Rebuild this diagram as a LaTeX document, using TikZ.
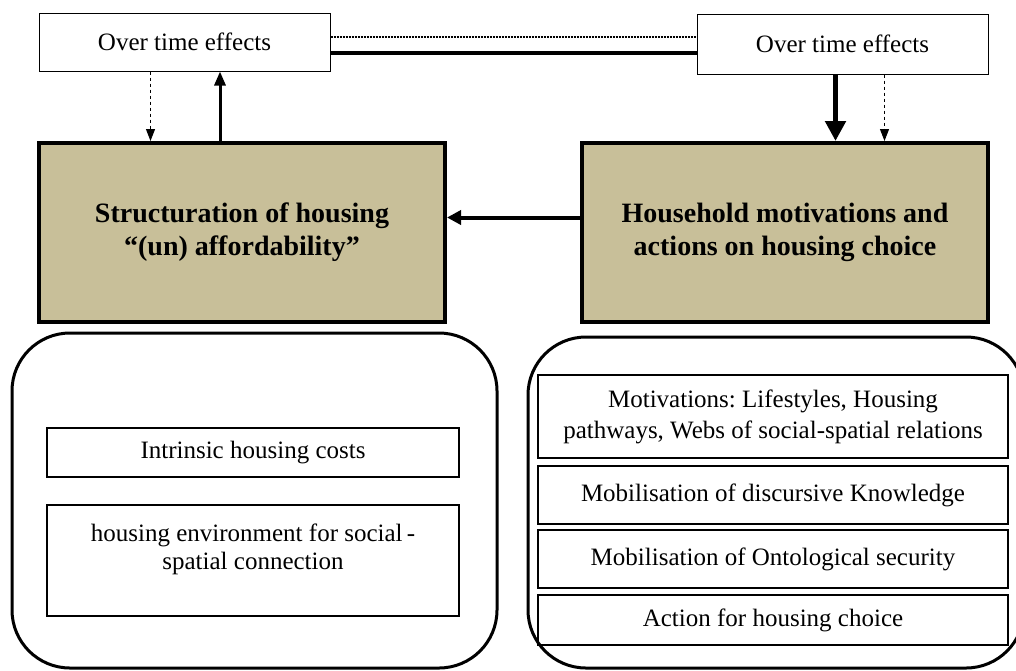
\documentclass[tikz,border=0pt]{standalone}
\usepackage{fontspec}
\setmainfont{Liberation Serif}
\usetikzlibrary{arrows.meta,positioning}
\definecolor{boxtan}{RGB}{200,191,153}
\frenchspacing

\tikzset{
  effectbox/.style={draw=black, line width=1pt, fill=white, minimum width=291pt,
    minimum height=58pt, font=\fontsize{25}{29}\selectfont},
  structbox/.style={draw=black, line width=4pt, fill=boxtan, minimum width=406pt,
    minimum height=179pt, align=center, font=\fontsize{28}{33}\selectfont\bfseries},
  groupbox/.style={draw=black, line width=3pt, rounded corners=58pt},
  itembox/.style={draw=black, line width=1.5pt, align=center,
    font=\fontsize{25}{31}\selectfont},
  dasharrow/.style={dashed, line width=1pt, -{Triangle[length=12pt,width=9pt]}},
}

\begin{document}
\begin{tikzpicture}[x=1pt, y=-1pt]

\useasboundingbox (0,0) rectangle (1016,670);
\clip (0,0) rectangle (1016,670);

% Over time effects
\path
(184.5,42) node [effectbox] (tl) {Over time effects};
\path
(842.5,44) node [effectbox, minimum height=60pt] (tr) {Over time effects};

% link between the two
\draw[dashed, dash pattern=on 2pt off 1pt, line width=1.5pt]
  ([yshift=5pt]tl.east) -- ([yshift=5pt]tl.east -| tr.west);
\draw[line width=4pt]
  ([yshift=-11pt]tl.east) -- ([yshift=-11pt]tl.east -| tr.west);

%
% Structuration
%
\path
(242,232.5) node [structbox] (sl) {Structuration of housing\\``(un) affordability''};

%
% Household
%
\path
(785,232.5) node [structbox] (hm) {Household motivations and\\actions on housing choice};

% arrows
\draw[dasharrow] ([xshift=112pt]tl.south west) coordinate (a1) -- (a1 |- sl.north);
\draw[line width=3pt, -{Triangle[length=14pt,width=11pt]}]
  ([xshift=183pt]sl.north west) coordinate (a2) -- (a2 |- tl.south);
\draw[line width=5pt, -{Triangle[length=20pt,width=20pt]}]
  ([xshift=139pt]tr.south west) coordinate (a3) -- (a3 |- hm.north);
\draw[dasharrow] ([xshift=188pt]tr.south west) coordinate (a4) -- (a4 |- hm.north);
\draw[line width=4pt, -{Triangle[length=14pt,width=14pt]}]
  ([yshift=15pt]hm.west) -- ([yshift=15pt]sl.east);

%
% Left group
%
\draw[groupbox] (12,333) rectangle (497,668);

\path
(253,452.5) node [itembox, minimum width=412pt, minimum height=49pt] (costs) {Intrinsic housing costs};
\path
(253,560.5) node [itembox, minimum width=412pt, minimum height=111pt] (env) {};
\node [itembox, draw=none, below=16pt of env.north, anchor=north,
  font=\fontsize{25}{28}\selectfont]
  (envtext) {housing environment for social\,-\\spatial connection};

%
% Right group
%
\draw[groupbox] (528,337) rectangle (1024,668);

\path
(773,416.5) node [itembox, minimum width=470pt, minimum height=83pt] (motiv)
  {Motivations: Lifestyles, Housing\\pathways, Webs of social-spatial relations};
\path
(773,495) node [itembox, minimum width=470pt, minimum height=58pt] (know)
  {Mobilisation of discursive Knowledge};
\path
(773,559) node [itembox, minimum width=470pt, minimum height=58pt] (onto)
  {Mobilisation of Ontological security};
\path
(773,620) node [itembox, minimum width=470pt, minimum height=50pt] (action)
  {Action for housing choice};

\end{tikzpicture}
\end{document}
